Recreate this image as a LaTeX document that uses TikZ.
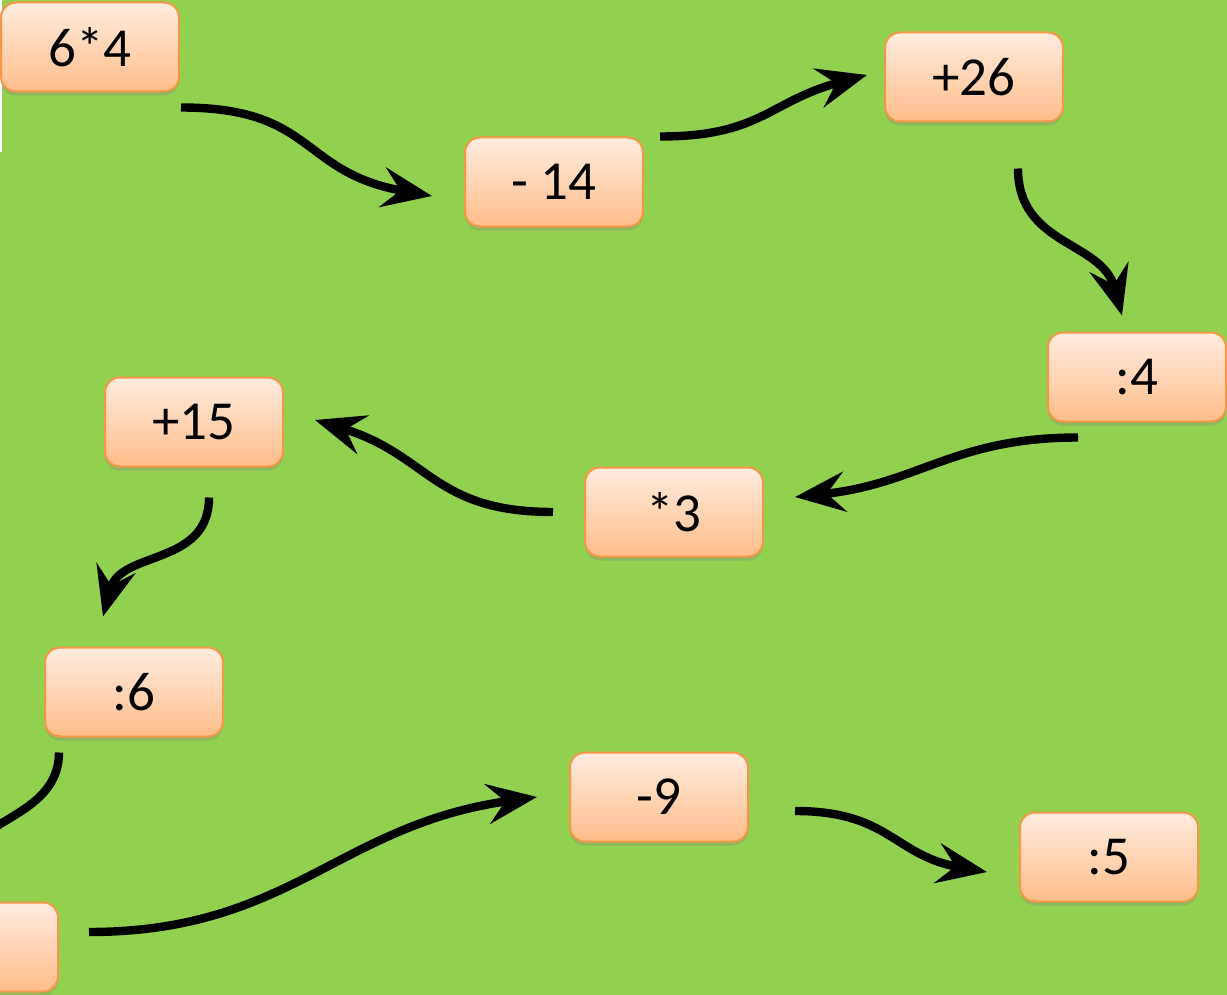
\documentclass[tikz,border=0pt]{standalone}
\usepackage{fontspec}
\setmainfont{Carlito}
\usetikzlibrary{arrows.meta,shadows}
\definecolor{leaf}{HTML}{92D050}
\definecolor{peachtop}{HTML}{FFECDF}
\definecolor{peachbot}{HTML}{FFBD8A}
\definecolor{peachline}{HTML}{F79646}
\tikzset{
  opbox/.style={draw=peachline, line width=1pt, rounded corners=7.5pt,
    top color=peachtop, bottom color=peachbot,
    minimum width=89pt, minimum height=44.5pt, inner sep=0pt,
    font=\fontsize{27.5}{32}\selectfont,
    drop shadow={opacity=0.3, shadow xshift=0pt, shadow yshift=-2pt}},
  flow/.style={line width=4.2pt, line cap=butt,
    -{Stealth[length=25pt, width=20pt, inset=9pt]}}
}
\begin{document}
\begin{tikzpicture}[x=0.5pt, y=0.5pt]
    \useasboundingbox (0,0) rectangle (1227,-995);
    \clip (0,0) rectangle (1227,-995);
    \fill[leaf] (0,0) rectangle (1227,-995);
    \fill[white] (0,0) rectangle (2,-152);
    % the boxes
    \node[opbox] (a) at (90,-47) {6*4};
    \node[opbox] (b) at (554,-182) {- 14};
    \node[opbox] (c) at (974,-77) {+26};
    \node[opbox] (d) at (1137,-377) {:4};
    \node[opbox] (e) at (674,-512) {*3};
    \node[opbox] (f) at (194,-422) {+15};
    \node[opbox] (g) at (134,-692) {:6};
    \node[opbox] (h) at (-31,-947) {};
    \node[opbox] (i) at (659,-797) {-9};
    \node[opbox] (j) at (1109,-857) {:5};
    % the arrows
    \draw[flow] ([xshift=0.5pt,yshift=-7.5pt]a.south east) to[out=0, in=170, looseness=1.3] ([xshift=-16pt,yshift=-7pt]b.west);
    \draw[flow] ([xshift=8pt]b.north east) to[out=0, in=195, looseness=1.2] ([xshift=-8.5pt,yshift=1pt]c.west);
    \draw[flow] ([xshift=22pt,yshift=-23pt]c.south) to[out=-90, in=105, looseness=1.1] ([xshift=-7.5pt,yshift=8pt]d.north);
    \draw[flow] ([xshift=-29.5pt,yshift=-7.5pt]d.south) to[out=180, in=6, looseness=1.1] ([xshift=15.5pt,yshift=7.5pt]e.east);
    \draw[flow] ([xshift=-15.5pt]e.west) to[out=180, in=-17, looseness=1.2] ([xshift=15.5pt,yshift=1pt]f.east);
    \draw[flow] ([xshift=7.5pt,yshift=-15pt]f.south) to[out=-90, in=75, looseness=1.1] ([xshift=-15.5pt,yshift=15pt]g.north);
    \draw[flow] ([xshift=-37.5pt,yshift=-7.5pt]g.south) to[out=-90, in=80] ([yshift=11pt]h.north);
    \draw[flow] ([xshift=15pt,yshift=7.5pt]h.east) to[out=0, in=188, looseness=1.1] ([xshift=-16pt]i.west);
    \draw[flow] ([xshift=23pt,yshift=-7pt]i.east) to[out=0, in=170, looseness=1.2] ([xshift=-16pt,yshift=-7.5pt]j.west);
\end{tikzpicture}
\end{document}
